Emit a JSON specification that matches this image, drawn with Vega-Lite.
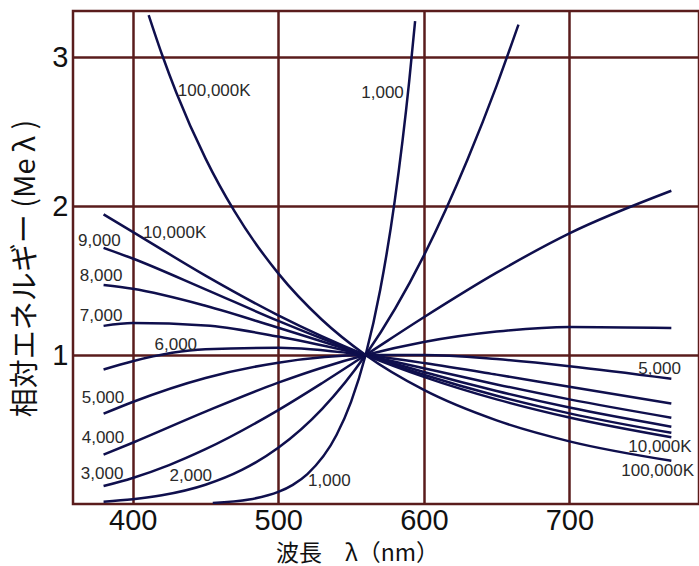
{
  "$schema": "https://vega.github.io/schema/vega-lite/v6.json",
  "width": 626,
  "height": 493,
  "autosize": {"type": "none"},
  "padding": {"left": 73, "top": 11, "right": 0, "bottom": 62},
  "background": "white",
  "config": {
    "view": {"stroke": "#5a1c1c", "strokeWidth": 2.5},
    "axis": {
      "grid": true,
      "gridColor": "#5a1c1c",
      "gridWidth": 2.5,
      "gridOpacity": 1,
      "ticks": false,
      "domain": false,
      "labelFont": "Liberation Sans",
      "labelFontSize": 29,
      "labelColor": "#111111",
      "titleFont": "Noto Sans CJK JP",
      "titleFontWeight": "normal",
      "titleColor": "#111111"
    }
  },
  "datasets": {
    "curves": [
      {"T": "1000", "wl": 455, "e": 0.0075},
      {"T": "1000", "wl": 480, "e": 0.0299},
      {"T": "1000", "wl": 500, "e": 0.0808},
      {"T": "1000", "wl": 510, "e": 0.1286},
      {"T": "1000", "wl": 520, "e": 0.2007},
      {"T": "1000", "wl": 540, "e": 0.463},
      {"T": "1000", "wl": 550, "e": 0.6858},
      {"T": "1000", "wl": 560, "e": 1},
      {"T": "1000", "wl": 570, "e": 1.4365},
      {"T": "1000", "wl": 580, "e": 2.035},
      {"T": "1000", "wl": 590, "e": 2.844},
      {"T": "1000", "wl": 594, "e": 3.242},
      {"T": "2000", "wl": 380, "e": 0.0158},
      {"T": "2000", "wl": 400, "e": 0.0315},
      {"T": "2000", "wl": 420, "e": 0.0582},
      {"T": "2000", "wl": 450, "e": 0.1291},
      {"T": "2000", "wl": 475, "e": 0.2286},
      {"T": "2000", "wl": 500, "e": 0.3771},
      {"T": "2000", "wl": 530, "e": 0.6367},
      {"T": "2000", "wl": 560, "e": 1},
      {"T": "2000", "wl": 600, "e": 1.6676},
      {"T": "2000", "wl": 630, "e": 2.3127},
      {"T": "2000", "wl": 650, "e": 2.809},
      {"T": "2000", "wl": 665, "e": 3.219},
      {"T": "3000", "wl": 380, "e": 0.1203},
      {"T": "3000", "wl": 400, "e": 0.1749},
      {"T": "3000", "wl": 425, "e": 0.2615},
      {"T": "3000", "wl": 450, "e": 0.3678},
      {"T": "3000", "wl": 500, "e": 0.6305},
      {"T": "3000", "wl": 530, "e": 0.811},
      {"T": "3000", "wl": 560, "e": 1},
      {"T": "3000", "wl": 600, "e": 1.2535},
      {"T": "3000", "wl": 650, "e": 1.5529},
      {"T": "3000", "wl": 700, "e": 1.817},
      {"T": "3000", "wl": 770, "e": 2.103},
      {"T": "4000", "wl": 380, "e": 0.3311},
      {"T": "4000", "wl": 400, "e": 0.4113},
      {"T": "4000", "wl": 450, "e": 0.62},
      {"T": "4000", "wl": 500, "e": 0.8146},
      {"T": "4000", "wl": 530, "e": 0.915},
      {"T": "4000", "wl": 560, "e": 1},
      {"T": "4000", "wl": 600, "e": 1.0877},
      {"T": "4000", "wl": 650, "e": 1.1578},
      {"T": "4000", "wl": 700, "e": 1.189},
      {"T": "4000", "wl": 770, "e": 1.182},
      {"T": "5000", "wl": 380, "e": 0.6062},
      {"T": "5000", "wl": 400, "e": 0.6851},
      {"T": "5000", "wl": 450, "e": 0.8463},
      {"T": "5000", "wl": 500, "e": 0.9487},
      {"T": "5000", "wl": 560, "e": 1},
      {"T": "5000", "wl": 600, "e": 1.0001},
      {"T": "5000", "wl": 650, "e": 0.9728},
      {"T": "5000", "wl": 700, "e": 0.9256},
      {"T": "5000", "wl": 770, "e": 0.8415},
      {"T": "6000", "wl": 380, "e": 0.9034},
      {"T": "6000", "wl": 400, "e": 0.9589},
      {"T": "6000", "wl": 450, "e": 1.0383},
      {"T": "6000", "wl": 500, "e": 1.0483},
      {"T": "6000", "wl": 560, "e": 1},
      {"T": "6000", "wl": 600, "e": 0.9465},
      {"T": "6000", "wl": 650, "e": 0.8686},
      {"T": "6000", "wl": 700, "e": 0.7865},
      {"T": "6000", "wl": 770, "e": 0.675},
      {"T": "7000", "wl": 380, "e": 1.1959},
      {"T": "7000", "wl": 400, "e": 1.2144},
      {"T": "7000", "wl": 450, "e": 1.1983},
      {"T": "7000", "wl": 500, "e": 1.124},
      {"T": "7000", "wl": 560, "e": 1},
      {"T": "7000", "wl": 600, "e": 0.9112},
      {"T": "7000", "wl": 650, "e": 0.8029},
      {"T": "7000", "wl": 700, "e": 0.7026},
      {"T": "7000", "wl": 770, "e": 0.5797},
      {"T": "8000", "wl": 380, "e": 1.47},
      {"T": "8000", "wl": 400, "e": 1.4445},
      {"T": "8000", "wl": 450, "e": 1.3308},
      {"T": "8000", "wl": 500, "e": 1.1829},
      {"T": "8000", "wl": 560, "e": 1},
      {"T": "8000", "wl": 600, "e": 0.8862},
      {"T": "8000", "wl": 650, "e": 0.7583},
      {"T": "8000", "wl": 700, "e": 0.6473},
      {"T": "8000", "wl": 770, "e": 0.5191},
      {"T": "9000", "wl": 380, "e": 1.7201},
      {"T": "9000", "wl": 400, "e": 1.6483},
      {"T": "9000", "wl": 450, "e": 1.4411},
      {"T": "9000", "wl": 500, "e": 1.2295},
      {"T": "9000", "wl": 560, "e": 1},
      {"T": "9000", "wl": 600, "e": 0.8679},
      {"T": "9000", "wl": 650, "e": 0.7263},
      {"T": "9000", "wl": 700, "e": 0.6086},
      {"T": "9000", "wl": 770, "e": 0.4776},
      {"T": "10000", "wl": 380, "e": 1.9447},
      {"T": "10000", "wl": 400, "e": 1.8273},
      {"T": "10000", "wl": 450, "e": 1.5334},
      {"T": "10000", "wl": 500, "e": 1.2669},
      {"T": "10000", "wl": 560, "e": 1},
      {"T": "10000", "wl": 600, "e": 0.8538},
      {"T": "10000", "wl": 650, "e": 0.7024},
      {"T": "10000", "wl": 700, "e": 0.5802},
      {"T": "10000", "wl": 770, "e": 0.4477},
      {"T": "100000", "wl": 411, "e": 3.2819},
      {"T": "100000", "wl": 420, "e": 3.0215},
      {"T": "100000", "wl": 430, "e": 2.7617},
      {"T": "100000", "wl": 450, "e": 2.3206},
      {"T": "100000", "wl": 470, "e": 1.9641},
      {"T": "100000", "wl": 500, "e": 1.5484},
      {"T": "100000", "wl": 530, "e": 1.237},
      {"T": "100000", "wl": 560, "e": 1},
      {"T": "100000", "wl": 600, "e": 0.7656},
      {"T": "100000", "wl": 650, "e": 0.5612},
      {"T": "100000", "wl": 700, "e": 0.4207},
      {"T": "100000", "wl": 770, "e": 0.2901}
    ],
    "labels": [
      {"label": "100,000K", "wl": 431, "e": 2.77},
      {"label": "1,000", "wl": 557, "e": 2.758},
      {"label": "10,000K", "wl": 407, "e": 1.819},
      {"label": "9,000", "wl": 362.5, "e": 1.765},
      {"label": "8,000", "wl": 363.7, "e": 1.53},
      {"label": "7,000", "wl": 363.7, "e": 1.262},
      {"label": "6,000", "wl": 415, "e": 1.067},
      {"label": "5,000", "wl": 365, "e": 0.711},
      {"label": "4,000", "wl": 365, "e": 0.443},
      {"label": "3,000", "wl": 364.4, "e": 0.201},
      {"label": "2,000", "wl": 425.3, "e": 0.188},
      {"label": "1,000", "wl": 520.5, "e": 0.154},
      {"label": "5,000", "wl": 747.3, "e": 0.906},
      {"label": "10,000K", "wl": 740.4, "e": 0.383},
      {"label": "100,000K", "wl": 735.6, "e": 0.221}
    ]
  },
  "layer": [
    {
      "data": {"name": "curves"},
      "mark": {"type": "line", "interpolate": "monotone", "clip": true, "color": "#0f0f4d", "strokeWidth": 2.5},
      "encoding": {
        "x": {
          "field": "wl", "type": "quantitative",
          "scale": {"domain": [359, 789], "nice": false, "zero": false},
          "axis": {
            "values": [400, 500, 600, 700],
            "format": "d",
            "labelPadding": 2,
            "title": "波長　λ（nm）",
            "titleFontSize": 23,
            "titleX": 284,
            "titleY": 49,
            "titleAlign": "center",
            "titleBaseline": "middle"
          }
        },
        "y": {
          "field": "e", "type": "quantitative",
          "scale": {"domain": [0, 3.31], "nice": false, "zero": false},
          "axis": {
            "values": [1, 2, 3],
            "format": "d",
            "labelPadding": 5,
            "title": "相対エネルギー (Me λ )",
            "titleFontSize": 29,
            "titleAngle": -90,
            "titleX": -48,
            "titleY": 257,
            "titleAlign": "center",
            "titleBaseline": "middle"
          }
        },
        "detail": {"field": "T", "type": "nominal"}
      }
    },
    {
      "data": {"name": "labels"},
      "mark": {"type": "text", "align": "left", "baseline": "middle", "font": "Liberation Sans", "fontSize": 17, "color": "#2a2a2a"},
      "encoding": {
        "x": {"field": "wl", "type": "quantitative"},
        "y": {"field": "e", "type": "quantitative"},
        "text": {"field": "label", "type": "nominal"}
      }
    }
  ]
}
